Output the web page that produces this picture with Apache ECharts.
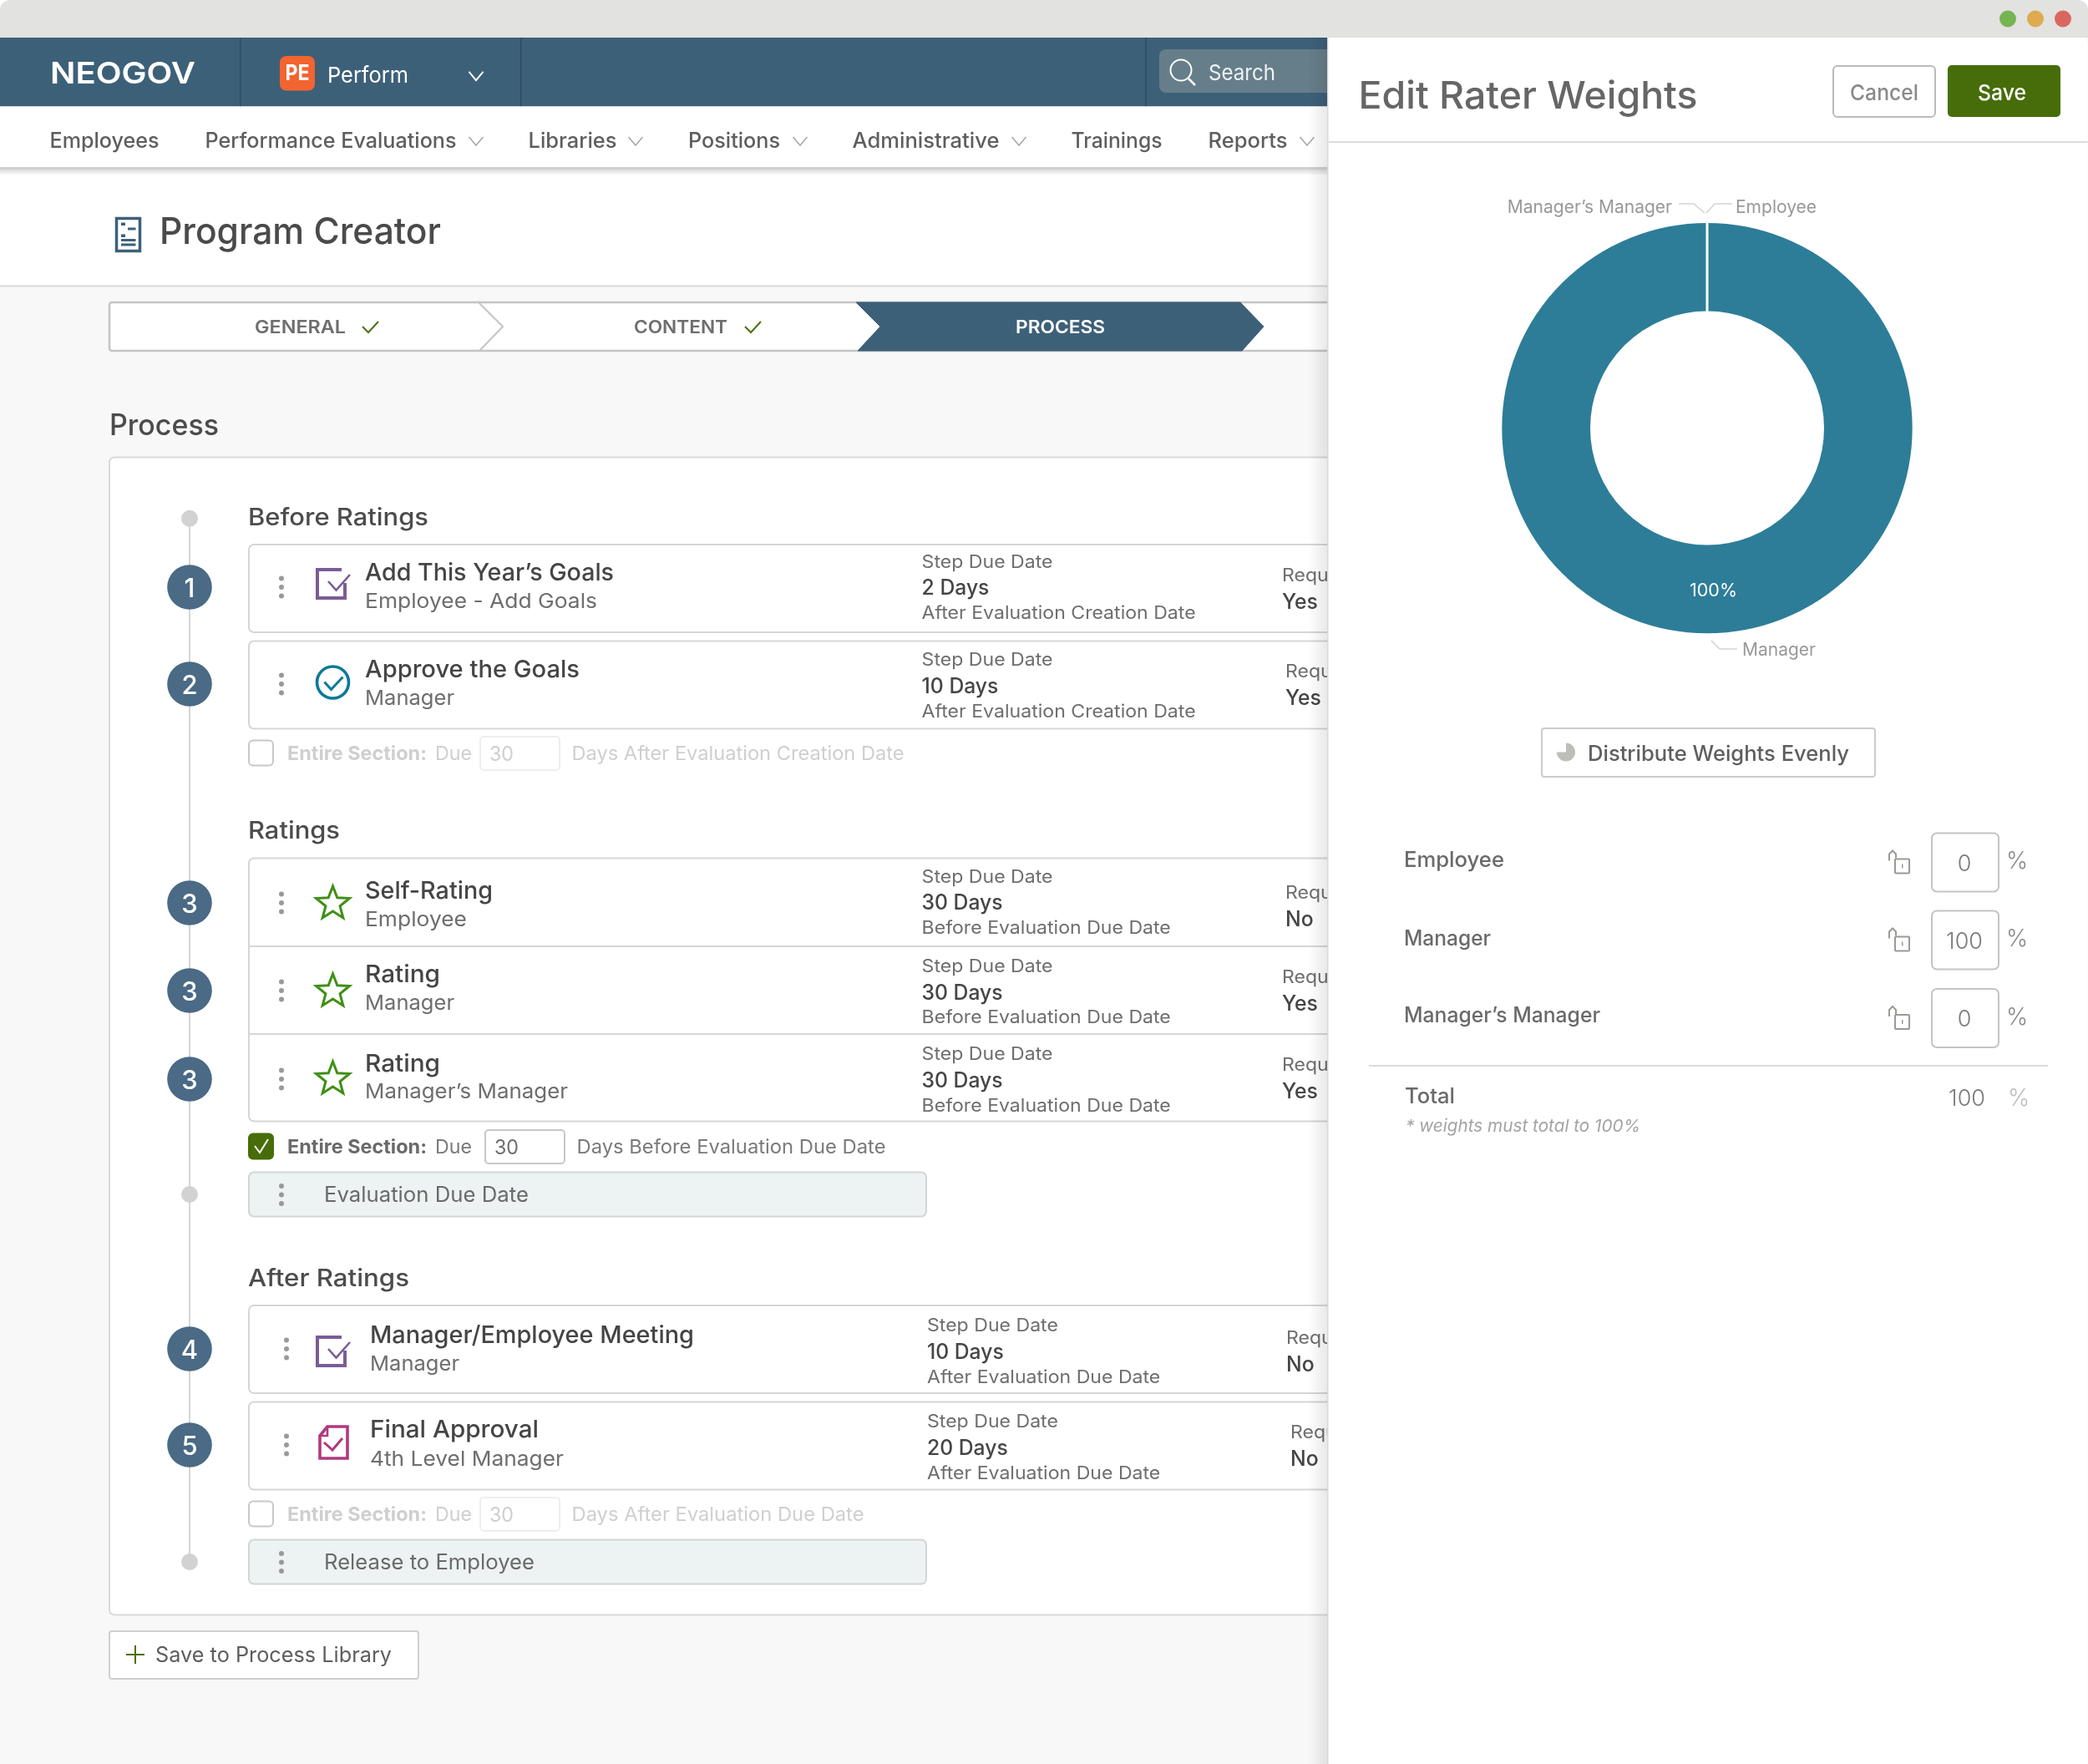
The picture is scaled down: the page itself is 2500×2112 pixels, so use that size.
<!DOCTYPE html>
<html><head><meta charset="utf-8">
<style>html,body{margin:0;padding:0;background:#fff}#c{width:2500px;height:2112px}</style>
<script src="https://cdn.jsdelivr.net/npm/echarts@6/dist/echarts.min.js"></script>
</head><body><div id="c"></div>
<script>
// ---- data ----
const raterNames = ['Employee', 'Manager', 'Manager’s Manager'];
const raterWeights = [0, 100, 0];
const weightsTotal = 100;
const stepNumbers = ['1', '2', '3', '3', '3', '4', '5'];
const stepTitles = ['Add This Year’s Goals', 'Approve the Goals', 'Self-Rating', 'Rating', 'Rating', 'Manager/Employee Meeting', 'Final Approval'];
const stepRoles = ['Employee - Add Goals', 'Manager', 'Employee', 'Manager', 'Manager’s Manager', 'Manager', '4th Level Manager'];
const stepDue = ['2 Days', '10 Days', '30 Days', '30 Days', '30 Days', '10 Days', '20 Days'];
const stepBasis = ['After Evaluation Creation Date', 'After Evaluation Creation Date', 'Before Evaluation Due Date', 'Before Evaluation Due Date', 'Before Evaluation Due Date', 'After Evaluation Due Date', 'After Evaluation Due Date'];
const stepRequired = ['Yes', 'Yes', 'No', 'Yes', 'Yes', 'No', 'No'];
const navItems = ['Employees', 'Performance Evaluations', 'Libraries', 'Positions', 'Administrative', 'Trainings', 'Reports'];
const stages = ['GENERAL', 'CONTENT', 'PROCESS'];
const sections = ['Before Ratings', 'Ratings', 'After Ratings'];

// ---- layout ----
const navX = [59.5, 245.5, 632.5, 824, 1020.5, 1282.5, 1446.5], navW = [131, 301, 106, 110, 176, 109, 95], navChevron = [0, 570, 761, 958, 1220, 0, 1565];
const circleY = [703, 819, 1081, 1186, 1292, 1615, 1730];
const titleX = [437, 437, 437, 437, 437, 443, 443];
const titleW = [298, 257, 153, 90, 90, 388, 202];
const roleW = [278, 107, 122, 107, 243, 107, 232];
const titleY = [685, 800.5, 1066, 1166, 1272.6, 1598, 1711];
const roleY = [719, 835, 1100, 1200, 1306.6, 1632.5, 1746];
const dueX = [1103.6, 1103.6, 1103.6, 1103.6, 1103.6, 1110, 1110];
const dueY = [671.6, 789, 1048.6, 1156, 1261, 1586, 1701];
const dueGap = [31.5, 32, 31.5, 31.5, 32, 32, 32];
const reqX = [1535, 1539, 1539, 1535, 1535, 1540, 1545];
const reqY = [688, 803, 1068, 1169, 1274, 1601, 1714];
const dragX = [337, 337, 337, 337, 337, 343, 343];

const FONT = 'Inter, "Noto Sans", sans-serif';
const TEXT_DY = 1.5;
const mctx = document.createElement('canvas').getContext('2d');
function fontStr(size, weight, italic) { return (italic ? 'italic ' : '') + (weight || 400) + ' ' + size + 'px ' + FONT; }
function measure(s, f) { mctx.font = f; return mctx.measureText(s).width; }
const els = [];
function T(s, x, y, size, fill, o) {
  o = o || {};
  const f = fontStr(size, o.weight, o.italic);
  let sx = o.sx || 1;
  if (o.w) sx = o.w / measure(s, f);
  els.push({ type: 'text', x: x, y: y + TEXT_DY, scaleX: sx, silent: true, style: {
    text: s, fill: fill, font: f, align: o.align || 'left', textAlign: o.align || 'left', verticalAlign: 'middle', textVerticalAlign: 'middle' } });
}
function R(x, y, w, h, fill, o) {
  o = o || {};
  els.push({ type: 'rect', silent: true, shape: { x: x, y: y, width: w, height: h, r: o.r || 0 },
    style: { fill: fill || 'none', stroke: o.stroke || null, lineWidth: o.lw || 0 } });
}
function L(pts, stroke, lw, closed, fill) {
  els.push({ type: closed ? 'polygon' : 'polyline', silent: true, shape: { points: pts },
    style: { stroke: stroke, lineWidth: lw || 2, fill: fill || 'none', lineJoin: 'miter' } });
}
function C(x, y, r, fill, stroke, lw) {
  els.push({ type: 'circle', silent: true, shape: { cx: x, cy: y, r: r }, style: { fill: fill || 'none', stroke: stroke || null, lineWidth: lw || 0 } });
}
function grad(x, y, w, h, horiz, c0, c1) {
  els.push({ type: 'rect', silent: true, shape: { x: x, y: y, width: w, height: h },
    style: { fill: new echarts.graphic.LinearGradient(0, 0, horiz ? 1 : 0, horiz ? 0 : 1, [{ offset: 0, color: c0 }, { offset: 1, color: c1 }]) } });
}
function chev(cx, cy, color, lw, s) { s = s || 8; L([[cx - s, cy - s * .6], [cx, cy + s * .6], [cx + s, cy - s * .6]], color, lw || 1.6); }
function drag(x, y) { [-10.4, 0, 10.4].forEach(d => C(x, y + d, 3, '#999')); }
function scaleFor(sample, width, f) { return width / measure(sample, f); }

// page background
R(0, 44, 2500, 2068, '#f8f8f8');
R(0, 0, 2500, 50, '#e2e2e0', { r: [12, 12, 0, 0] });
// header
R(0, 45, 1590, 82.5, '#3d6079');
[287, 623, 1371].forEach(x => R(x, 45, 1.5, 82.5, '#2f4d63'));
T('NEOGOV', 60, 87.5, 36, '#fff', { weight: 600, w: 174 });
R(335, 67, 42, 41.5, '#f26430', { r: 8 });
T('PE', 356, 87, 26, '#fff', { weight: 700, align: 'center', w: 29 });
T('Perform', 392, 89.5, 26, '#fff', { w: 97 });
chev(570, 91, '#fff', 2, 8.5);
R(1388, 59, 210, 52, '#667e8a', { r: 8 });
C(1414, 84, 12.5, null, '#fff', 2);
L([[1423, 94], [1431, 102]], '#fff', 2.5);
T('Search', 1447, 86.5, 26, '#eef2f4', { w: 80 });
// nav
R(0, 127.5, 1590, 73, '#fff');
grad(0, 202, 1590, 7, false, 'rgba(0,0,0,0.07)', 'rgba(0,0,0,0)');
R(0, 200, 1590, 2.5, '#cfcfcf');
navItems.forEach((n, i) => {
  T(n, navX[i], 167.5, 25, '#5e5e5e', { w: navW[i], weight: 500 });
  if (navChevron[i]) chev(navChevron[i], 169, '#a9a9a9', 1.6, 8.5);
});
// page title
R(0, 209, 1590, 133, '#fff');
grad(0, 202, 1590, 7, false, 'rgba(0,0,0,0.06)', 'rgba(0,0,0,0)');
R(0, 341.5, 1590, 2, '#d8d8d8');
R(139.5, 261.5, 28, 39, '#fff', { stroke: '#3d6079', lw: 3.5 });
R(145, 266.5, 5, 3.5, '#3d6079'); R(153, 272.5, 9.5, 3, '#3d6079');
R(145, 280.5, 5, 3.5, '#3d6079'); R(145, 286, 17.5, 3, '#3d6079');
R(145, 291.5, 17.5, 3, '#3d6079');
T('Program Creator', 191, 277.5, 44, '#4a4a4a', { w: 337, weight: 500 });
// stepper
R(131, 362, 1470, 58, '#fff', { stroke: '#c4c4c4', lw: 2.5, r: 3 });
L([[572, 361], [602, 391], [574, 420]], '#c4c4c4', 2);
L([[1025, 362], [1485, 362], [1513, 391], [1487, 420], [1027, 420], [1054, 391]], '#3d6079', 1, true, '#3d6079');
T(stages[0], 305, 391.5, 21.5, '#6e6e6e', { weight: 600, w: 109 });
L([[434, 391], [441, 398], [453, 385]], '#4a7010', 2);
T(stages[1], 759, 391.5, 21.5, '#6e6e6e', { weight: 600, w: 112 });
L([[892, 391], [899, 398], [911, 385]], '#4a7010', 2);
T(stages[2], 1216, 391.5, 21.5, '#fff', { weight: 600, w: 107 });
T('Process', 131, 509, 35, '#4c4c4c', { w: 131, weight: 500 });
// main card
R(131, 547.5, 1480, 1386, '#fff', { stroke: '#d9d9d9', lw: 2, r: 6 });
// timeline
R(226, 620, 2, 1250, '#d6d6d6');
[620.7, 1430, 1870].forEach(y => C(227, y, 10, '#d2d2d2'));
// section headings
const secY = [619, 994, 1530], secW = [216, 110, 193];
sections.forEach((s, i) => T(s, 297, secY[i], 29, '#4c4c4c', { weight: 500, w: secW[i] }));
// step cards
function card(y, h) { R(298, y, 1310, h, '#fff', { stroke: '#d6d6d6', lw: 2, r: 6 }); }
card(652, 105); card(767.5, 105); card(1027.5, 315); card(1563, 105); card(1678.5, 105);
R(298, 1132, 1300, 2, '#d6d6d6'); R(298, 1237, 1300, 2, '#d6d6d6');
const fLab = fontStr(21.5), fVal = fontStr(25, 500);
const sxLab = scaleFor(stepBasis[0], 328, fLab), sxVal = scaleFor(stepDue[2], 97, fVal);
stepTitles.forEach((s, i) => {
  C(227, circleY[i], 26.8, '#4a6a85');
  T(stepNumbers[i], 227, circleY[i] + 1, 31, '#fff', { weight: 500, align: 'center' });
  drag(dragX[i], circleY[i]);
  T(s, titleX[i], titleY[i], 29, '#454545', { weight: 500, w: titleW[i] });
  T(stepRoles[i], titleX[i], roleY[i], 24.5, '#6e6e6e', { w: roleW[i] });
  T('Step Due Date', dueX[i], dueY[i], 21.5, '#6e6e6e', { sx: sxLab });
  T(stepDue[i], dueX[i], dueY[i] + dueGap[i], 25, '#454545', { weight: 500, sx: sxVal });
  T(stepBasis[i], dueX[i], dueY[i] + 2 * dueGap[i] - 2, 21.5, '#6e6e6e', { sx: sxLab });
  T('Required', reqX[i], reqY[i], 21.5, '#6e6e6e', { sx: sxLab });
  T(stepRequired[i], reqX[i], reqY[i] + 32, 25, '#454545', { weight: 500, sx: sxVal });
});
// step icons
function boxCheck(y) {
  L([[409, y + 1], [380, y + 1], [380, y + 35], [413, y + 35], [413, y + 17]], '#7a5c96', 4);
  L([[393, y + 15], [402.5, y + 25.5], [419, y + 7]], '#7a5c96', 2.6);
}
boxCheck(681); boxCheck(1600);
C(398.5, 817, 19, null, '#0b7a99', 3.6);
L([[388.5, 816.5], [396.5, 825.5], [410.5, 810.5]], '#0b7a99', 3);
[1081, 1186, 1291].forEach(cy => {
  const p = [];
  for (let k = 0; k < 10; k++) { const r = k % 2 ? 9 : 21, a = -Math.PI / 2 + k * Math.PI / 5; p.push([398.5 + r * Math.cos(a), cy + 1 + r * Math.sin(a)]); }
  L(p, '#3f8f16', 3, true);
});
L([[392, 1708], [416, 1708], [416, 1746], [383, 1746], [383, 1719]], '#b03a7e', 3.6, true);
L([[383, 1719], [392, 1719], [392, 1708]], '#b03a7e', 2.6);
L([[388, 1727], [398, 1736], [410, 1722]], '#b03a7e', 3);
// section rows
function sectionRow(y, on, ix, rest, restW) {
  const mute = on ? null : '#cfcfcf';
  R(298, y - 15.5, 29, 30, on ? '#466d0a' : '#fff', { stroke: on ? '#466d0a' : '#c8c8c8', lw: 2, r: 5 });
  if (on) L([[305, y - 1], [311, y + 7], [321, y - 9]], '#fff', 2);
  T('Entire Section:', 344, y, 23, mute || '#6a6a6a', { weight: 700, w: 167 });
  T('Due', 521, y, 23, mute || '#7a7a7a', { w: 44 });
  R(ix, y - 20, 95, 40, '#fff', { stroke: on ? '#c8c8c8' : '#eeeeee', lw: 2, r: 4 });
  T('30', ix + 11, y, 24, on ? '#6e6e6e' : '#cfcfcf', { w: 29 });
  T(rest, ix + 109.5, y, 23, mute || '#7a7a7a', { w: restW });
}
sectionRow(902, false, 575, 'Days After Evaluation Creation Date', 398);
sectionRow(1373, true, 581, 'Days Before Evaluation Due Date', 370);
sectionRow(1813, false, 575, 'Days After Evaluation Due Date', 350);
function band(y, s, w) {
  R(298, y, 811, 53, '#ecf3f2', { stroke: '#d0d6d5', lw: 2, r: 6 });
  drag(337, y + 27);
  T(s, 388, y + 26, 25, '#6a6a6a', { w: w });
}
band(1403.5, 'Evaluation Due Date', 245);
band(1843.5, 'Release to Employee', 252);
R(131, 1953, 370, 57, '#fff', { stroke: '#d0d0d0', lw: 2, r: 3 });
L([[151, 1981], [173, 1981]], '#4a7010', 2); L([[162, 1970], [162, 1992]], '#4a7010', 2);
T('Save to Process Library', 186, 1981, 25, '#5e5e5e', { w: 283 });

// right panel
grad(1566, 45, 23, 2067, true, 'rgba(0,0,0,0)', 'rgba(0,0,0,0.09)');
R(1589, 45, 2, 2067, '#d9d9d9');
R(1590.5, 45, 909, 2067, '#fff');
[[2404, '#75b551'], [2437, '#dfaa50'], [2470, '#d9675f']].forEach(d => C(d[0], 22.5, 10, d[1]));
T('Edit Rater Weights', 1626.5, 114.5, 45, '#666', { weight: 500, w: 406 });
R(2195, 79, 122, 61, '#fff', { stroke: '#bbbbbb', lw: 2, r: 5 });
T('Cancel', 2256, 110.5, 26, '#8a8a8a', { align: 'center', weight: 500, w: 82 });
R(2332, 78, 135, 62, '#466d0a', { r: 5 });
T('Save', 2397, 110.5, 26, '#fff', { align: 'center', weight: 500, w: 58 });
R(1590.5, 169, 909, 2, '#dddddd');
R(1846, 872, 399, 58, '#fff', { stroke: '#cccccc', lw: 2, r: 3 });
els.push({ type: 'sector', silent: true, shape: { cx: 1875, cy: 900.5, r: 11, r0: 0, startAngle: -Math.PI / 2, endAngle: Math.PI, clockwise: true }, style: { fill: '#bdbdb9' } });
T('Distribute Weights Evenly', 1901, 901.5, 25, '#5e5e5e', { w: 313, weight: 500 });
const rowY = [1029, 1123, 1215], inputY = [997.5, 1090.5, 1184];
raterNames.forEach((n, i) => {
  T(n, 1681, rowY[i], 25, '#6a6a6a', { weight: 500, w: [120, 104, 235][i] });
  const ly = inputY[i] + 22;
  els.push({ type: 'polyline', silent: true, shape: { points: [[2262, ly + 11], [2262, ly + 3], [2266, ly - 1], [2270, ly + 3], [2270, ly + 8]] }, style: { stroke: '#9a9a96', lineWidth: 2, fill: 'none' } });
  R(2269, ly + 9, 17, 17, '#fff', { stroke: '#9a9a96', lw: 2, r: 1 });
  R(2277, ly + 15, 1.5, 5, '#9a9a96');
  R(2313, inputY[i], 80, 70, '#fff', { stroke: '#c4c4c2', lw: 2, r: 6 });
  T(String(raterWeights[i]), 2352, inputY[i] + 35.5, 27, '#7a7a7a', { align: 'center', weight: 300 });
  T('%', 2415, inputY[i] + 33, 28, '#8a8a8a', { align: 'center', weight: 300 });
});
R(1639, 1275, 813, 2, '#dcdcdc');
T('Total', 1682, 1312, 25, '#6a6a6a', { weight: 500, w: 60 });
T(String(weightsTotal), 2355, 1314.5, 27, '#7a7a7a', { align: 'center', weight: 300 });
T('%', 2417, 1314, 28, '#bdbdbd', { align: 'center', weight: 300 });
T('* weights must total to 100%', 1683, 1347.5, 20.5, '#a3a3a3', { italic: true, w: 281 });

// pie outer-label geometry (from the chart layout)
const labelPos = {
  'Employee': { x: 2078, y: 248.5, align: 'left', line: [[2043, 255], [2053, 244], [2074, 244]] },
  'Manager': { x: 2086, y: 778.5, align: 'left', line: [[2049, 767], [2059, 777], [2080, 777]] },
  'Manager’s Manager': { x: 2002, y: 248.5, align: 'right', line: [[2041, 255], [2028, 244], [2010, 244]] }
};
const pieData = raterNames.map((n, i) => ({ name: n, value: raterWeights[i] }));
const chart = echarts.init(document.getElementById('c'), null, { renderer: 'canvas', width: 2500, height: 2112 });
chart.setOption({
  animation: false,
  backgroundColor: '#fff',
  graphic: { elements: els },
  series: [{
    type: 'pie', name: 'Rater weights', center: [2044, 512.6], radius: [138.5, 247.2], startAngle: 90, clockwise: true,
    silent: true, avoidLabelOverlap: false, minShowLabelAngle: 0, showEmptyCircle: false,
    itemStyle: { color: '#2d7d98', borderColor: '#fff', borderWidth: 3 },
    label: { show: true, position: 'outside', formatter: '{b}', color: '#999', fontFamily: FONT, fontSize: 21 },
    labelLine: { show: true, length: 15, length2: 20, lineStyle: { color: '#d4d4d4', width: 1.6 } },
    labelLayout: function (p) {
      const g = labelPos[p.text];
      return g ? { x: g.x, y: g.y, align: g.align, verticalAlign: 'middle', labelLinePoints: g.line } : {};
    },
    data: pieData
  }, {
    type: 'pie', name: 'Rater share', center: [2044, 512.6], radius: [138.5, 247.2], startAngle: 90, clockwise: true,
    silent: true, avoidLabelOverlap: false,
    itemStyle: { color: 'rgba(0,0,0,0)' },
    label: { show: true, position: 'inside', formatter: '{d}%', color: '#fff', fontFamily: FONT, fontSize: 21.5, offset: [7.5, -1] },
    labelLine: { show: false },
    data: pieData.map(d => ({ name: d.name, value: d.value, label: { show: d.value > 0 } }))
  }]
});
</script></body></html>
